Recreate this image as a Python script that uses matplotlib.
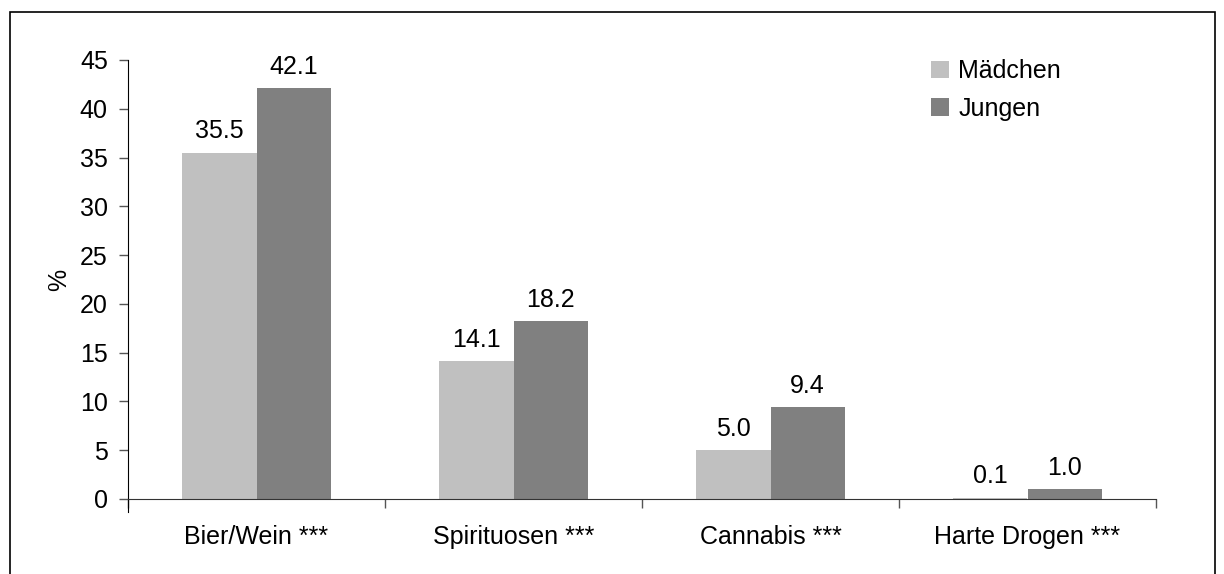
import numpy as np
import matplotlib
matplotlib.use('Agg')
import matplotlib.pyplot as plt
from matplotlib.patches import Rectangle

plt.rcParams['font.family'] = ['Liberation Sans', 'DejaVu Sans']

categories = ['Bier/Wein ***', 'Spirituosen ***', 'Cannabis ***', 'Harte Drogen ***']
maedchen = [35.5, 14.1, 5.0, 0.1]
jungen = [42.1, 18.2, 9.4, 1.0]
series_names = ['Mädchen', 'Jungen']
yticks = np.arange(0, 50, 5)

fig = plt.figure(figsize=(12.24, 5.74), dpi=100)
ax = fig.add_axes([128/1224, 1-499/574, (1156-128)/1224, (499-60)/574])

# outer frame of the chart (bottom edge sits below the picture)
fig.patches.append(Rectangle((10/1224, -0.05), (1215-10)/1224, 1.05-12/574,
                             transform=fig.transFigure, fill=False,
                             edgecolor='black', linewidth=1.2))

x = np.arange(len(categories))
w = 0.288
b1 = ax.bar(x - w/2, maedchen, w, color='#c0c0c0', label=series_names[0])
b2 = ax.bar(x + w/2, jungen, w, color='#808080', label=series_names[1])

for bars, vals in [(b1, maedchen), (b2, jungen)]:
    for bar, v in zip(bars, vals):
        ax.annotate('%.1f' % v, (bar.get_x() + bar.get_width()/2, v),
                    xytext=(0, 7), textcoords='offset points',
                    ha='center', va='bottom', fontsize=18)

ax.set_xlim(-0.5, len(categories) - 0.5)
ax.set_ylim(0, 45)
ax.set_yticks(yticks)
ax.tick_params(axis='y', labelsize=18, length=6.5, width=1, color='#555555', pad=8)
ax.set_xticks(x)
ax.set_xticklabels(categories)
ax.set_xticks(np.arange(-0.5, len(categories), 1), minor=True)
ax.tick_params(axis='x', which='major', length=0, labelsize=18, pad=19)
ax.tick_params(axis='x', which='minor', length=6.5, width=1, color='#555555')

for s in ['top', 'right']:
    ax.spines[s].set_visible(False)
ax.spines['left'].set_color('black')
ax.spines['bottom'].set_color('#333333')
ax.spines['left'].set_bounds(-1.3, 45)

ax.set_ylabel('%', fontsize=18, labelpad=6)

ax.legend(loc='upper left', bbox_to_anchor=(931/1224, 1-59/574),
          bbox_transform=fig.transFigure, frameon=False, fontsize=18,
          handlelength=0.7, handleheight=0.7, handletextpad=0.4,
          labelspacing=0.55, borderaxespad=0, borderpad=0)

fig.savefig('out.png', dpi=100)
